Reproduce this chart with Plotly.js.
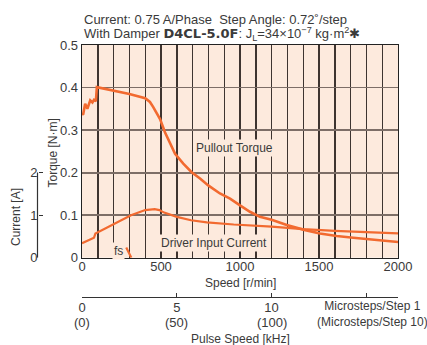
<!DOCTYPE html>
<html>
<head>
<meta charset="utf-8">
<script src="https://cdn.plot.ly/plotly-3.0.1.min.js"></script>
<style>html,body{margin:0;padding:0;background:#fff;}#chart{width:427px;height:345px;}</style>
</head>
<body>
<div id="chart"></div>
<script>
// ---- data ----
const speedTorque = [0, 8, 20, 34, 52, 66, 76, 88, 94, 200, 300, 400, 430, 451, 494, 525, 557, 589, 641, 694, 747, 799, 873, 937, 1000, 1063, 1126, 1200, 1296, 1400, 1506, 1612, 1717, 1823, 1910, 2000];
const pulloutTorque = [0.336, 0.338, 0.362, 0.350, 0.370, 0.365, 0.371, 0.368, 0.401, 0.393, 0.385, 0.375, 0.366, 0.354, 0.326, 0.295, 0.268, 0.244, 0.221, 0.201, 0.186, 0.170, 0.151, 0.139, 0.123, 0.108, 0.096, 0.089, 0.077, 0.066, 0.057, 0.051, 0.047, 0.043, 0.040, 0.037];

const speedCurrent = [0, 20, 40, 76, 85, 145, 230, 310, 400, 460, 490, 520, 600, 690, 790, 960, 1200, 1400, 1600, 1800, 2000];
const driverCurrent = [0.34, 0.37, 0.41, 0.47, 0.57, 0.69, 0.84, 1.00, 1.12, 1.14, 1.12, 1.06, 0.96, 0.88, 0.83, 0.78, 0.73, 0.67, 0.63, 0.60, 0.57];

const fsSpeed = [280, 312];
const fsTorque = [0.024, 0];

const speedGrid = [0, 100, 200, 300, 400, 500, 600, 700, 800, 900, 1000, 1100, 1200, 1300, 1400, 1500, 1600, 1700, 1800, 1900, 2000];
const speedTicks = [0, 500, 1000, 1500, 2000];
const torqueTicks = [0, 0.1, 0.2, 0.3, 0.4, 0.5];
const torqueLabels = ['0', '0.1', '0.2', '0.3', '0.4', '0.5'];
const currentTicks = [0, 1, 2];
const pulseTicks = [0, 5, 10, 15];
const pulseLabels = ['0', '5', '10', ''];
const pulseLabels10 = ['(0)', '(50)', '(100)'];

const stepAngle = 0.72;               // deg/step
const stepsPerRev = 360 / stepAngle;  // 500
const speedMax = 2000;
const pulseMax = speedMax * stepsPerRev / 60000; // kHz

// ---- styling ----
const FONT = "'Liberation Sans Narrow', 'Liberation Sans', Arial, sans-serif";
const TXT = '#3a3a3a';
const ORANGE = '#f26a30';
const BG = '#fdeadd';
const XGRID = '#3e3430';
const YGRID = '#7d6e67';

const W = 427, H = 345;
const M = {l: 20, r: 29, t: 45, b: 40};
const PW = W - M.l - M.r, PH = H - M.t - M.b;
const px = x => (x - M.l) / PW;          // pixel x -> paper
const py = y => (H - M.b - y) / PH;      // pixel y -> paper

const traces = [
  {x: speedTorque, y: pulloutTorque, xaxis: 'x', yaxis: 'y', mode: 'lines',
   line: {color: ORANGE, width: 2.6}, hoverinfo: 'skip', showlegend: false},
  {x: speedCurrent, y: driverCurrent, xaxis: 'x', yaxis: 'y3', mode: 'lines',
   line: {color: ORANGE, width: 2.2}, hoverinfo: 'skip', showlegend: false},
  {x: fsSpeed, y: fsTorque, xaxis: 'x', yaxis: 'y', mode: 'lines',
   line: {color: ORANGE, width: 2.2}, hoverinfo: 'skip', showlegend: false},
  {x: pulseTicks, y: pulseTicks.map(() => null), xaxis: 'x2', yaxis: 'y', mode: 'lines',
   hoverinfo: 'skip', showlegend: false}
];

const ann = (o) => Object.assign({showarrow: false, xanchor: 'center', yanchor: 'middle',
  font: {family: FONT, size: 12, color: TXT}}, o);

const annotations = [
  ann({xref: 'paper', yref: 'paper', x: px(82), y: py(20), xanchor: 'left',
       text: 'Current: 0.75 A/Phase  Step Angle: 0.72˚/step', font: {family: FONT, size: 13, color: TXT}}),
  ann({xref: 'paper', yref: 'paper', x: px(82), y: py(34.5), xanchor: 'left',
       text: 'With Damper <span style="font-family:\'DejaVu Sans\';font-weight:bold">D4CL-5.0F</span>: J<sub>L</sub>=34×10<sup>−7</sup> kg·m<sup>2</sup><span style="font-family:\'DejaVu Sans\';font-weight:bold">✱</span>',
       font: {family: FONT, size: 13, color: TXT}}),
  ann({xref: 'paper', yref: 'paper', x: px(52.5), y: py(153), textangle: -90, text: 'Torque [N·m]'}),
  ann({xref: 'paper', yref: 'paper', x: px(16), y: py(217), textangle: -90, text: 'Current [A]'}),
  ann({xref: 'paper', yref: 'paper', x: px(240), y: py(282.7), text: 'Speed [r/min]'}),
  ann({xref: 'paper', yref: 'paper', x: px(240), y: py(338.7), text: 'Pulse Speed [kHz]'}),
  ann({xref: 'paper', yref: 'paper', x: px(372), y: py(314.2), text: 'Microsteps/Step 1<br>(Microsteps/Step 10)'}),
  ann({xref: 'x', yref: 'y', x: 962, y: 0.259, bgcolor: BG, text: 'Pullout Torque'}),
  ann({xref: 'x', yref: 'y', x: 838, y: 0.0356, bgcolor: BG, text: 'Driver Input Current'}),
  ann({xref: 'x', yref: 'y', x: 234, y: 0.0157, bgcolor: BG, text: 'fs'})
];
pulseLabels10.forEach((t, i) => annotations.push(
  ann({xref: 'x2', yref: 'paper', x: pulseTicks[i], y: py(322), text: t, font: {family: FONT, size: 13, color: TXT}})));

const layout = {
  width: W, height: H,
  margin: M,
  paper_bgcolor: '#ffffff',
  plot_bgcolor: BG,
  font: {family: FONT, size: 13, color: TXT},
  showlegend: false,
  xaxis: {
    domain: [px(82), 1], range: [0, speedMax],
    tickvals: speedGrid, ticktext: speedGrid.map(v => speedTicks.includes(v) ? String(v) : ''),
    showgrid: true, gridcolor: XGRID, gridwidth: 1.4,
    zeroline: false, showline: true, mirror: true, linecolor: '#222', linewidth: 1.3,
    ticks: '', tickfont: {family: FONT, size: 13, color: TXT}, ticklabelstandoff: -4
  },
  yaxis: {
    domain: [py(257.7), 1], range: [0, 0.5],
    tickvals: torqueTicks, ticktext: torqueLabels,
    showgrid: true, gridcolor: YGRID, gridwidth: 1.8,
    zeroline: false, showline: true, mirror: true, linecolor: '#222', linewidth: 1.3,
    ticks: '', tickfont: {family: FONT, size: 13, color: TXT}
  },
  yaxis3: {
    overlaying: 'y', anchor: 'free', position: px(37.5), side: 'left',
    range: [0, 5], tickvals: currentTicks, ticktext: currentTicks.map(String),
    ticks: 'inside', ticklen: 4, tickcolor: '#333', tickwidth: 1.2,
    showgrid: false, zeroline: false, showline: false,
    tickfont: {family: FONT, size: 13, color: TXT}
  },
  xaxis2: {
    overlaying: 'x', anchor: 'free', position: py(297), side: 'bottom',
    range: [0, pulseMax], tickvals: pulseTicks, ticktext: pulseLabels,
    ticks: 'inside', ticklen: 4, tickcolor: '#333', tickwidth: 1.2,
    showgrid: false, zeroline: false, showline: true, linecolor: '#333', linewidth: 1.2,
    tickfont: {family: FONT, size: 13, color: TXT}, ticklabelstandoff: -2
  },
  shapes: [
    {type: 'line', xref: 'paper', yref: 'y3', x0: px(37.5), x1: px(37.5), y0: 0, y1: 2,
     line: {color: '#333', width: 1.2}}
  ],
  annotations: annotations
};

Plotly.newPlot('chart', traces, layout, {staticPlot: true, displayModeBar: false});
</script>
</body>
</html>
